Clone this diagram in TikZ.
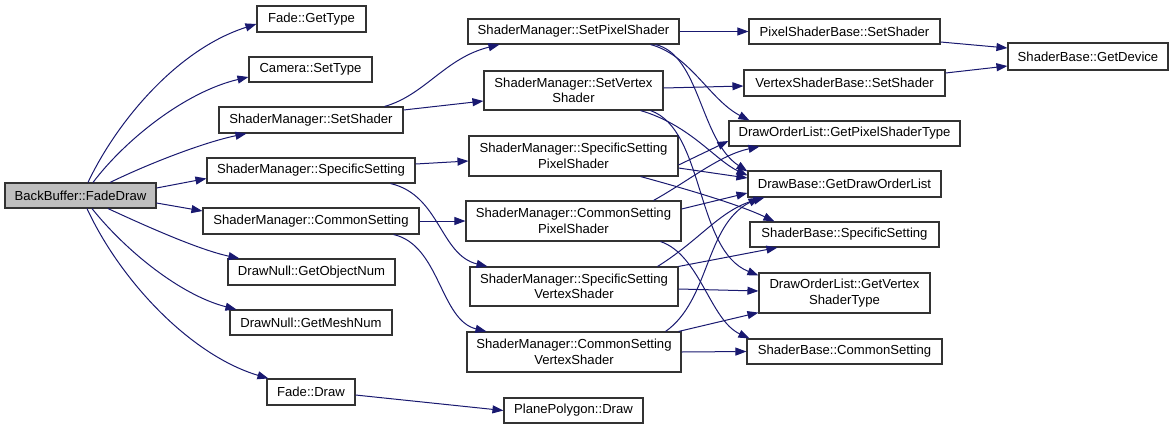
\documentclass[tikz,border=0pt]{standalone}
\usepackage{fontspec}
\setmainfont{Liberation Sans}
\usetikzlibrary{arrows.meta}
\definecolor{edgeblue}{HTML}{191970}
\definecolor{boxline}{HTML}{333333}
\tikzset{
  box/.style={draw=boxline, line width=1.1pt, fill=white, inner sep=0pt, align=center,
    font=\fontsize{13.1}{15.5}\selectfont},
  root/.style={box, fill=black!25},
  edge/.style={draw=edgeblue, line width=1pt, -{Triangle[length=11pt,width=8pt]}}
}
\begin{document}
\begin{tikzpicture}[x=1pt,y=-1pt]
\useasboundingbox[fill=white] (0,0) rectangle (1173,429);
% column 0
\node[root, minimum width=151pt, minimum height=25pt] (fd) at (80.5,195.5) {BackBuffer::FadeDraw};
% column 1
\node[box, minimum width=109pt, minimum height=26pt] (fgt) at (311.5,19) {Fade::GetType};
\node[box, minimum width=123pt, minimum height=25pt] (cst) at (310.5,69.5) {Camera::SetType};
\node[box, minimum width=184pt, minimum height=26pt] (sms) at (311,120) {ShaderManager::SetShader};
\node[box, minimum width=208pt, minimum height=25pt] (smss) at (311,170.5) {ShaderManager::SpecificSetting};
\node[box, minimum width=216pt, minimum height=26pt] (smcs) at (311,221) {ShaderManager::CommonSetting};
\node[box, minimum width=167pt, minimum height=26pt] (gon) at (311.5,272) {DrawNull::GetObjectNum};
\node[box, minimum width=162pt, minimum height=25pt] (gmn) at (311,322.5) {DrawNull::GetMeshNum};
\node[box, minimum width=88pt, minimum height=26pt] (fdr) at (311,392) {Fade::Draw};
% column 2
\node[box, minimum width=211pt, minimum height=25pt] (spx) at (573.5,31.5) {ShaderManager::SetPixelShader};
\node[box, minimum width=179pt, minimum height=39pt] (svx) at (573.5,90.5) {ShaderManager::SetVertex\\Shader};
\node[box, minimum width=209pt, minimum height=40pt] (sspx) at (573.5,156) {ShaderManager::SpecificSetting\\PixelShader};
\node[box, minimum width=215pt, minimum height=40pt] (cspx) at (573.5,221) {ShaderManager::CommonSetting\\PixelShader};
\node[box, minimum width=208pt, minimum height=39pt] (ssvx) at (574,286.5) {ShaderManager::SpecificSetting\\VertexShader};
\node[box, minimum width=214pt, minimum height=40pt] (csvx) at (574,352) {ShaderManager::CommonSetting\\VertexShader};
\node[box, minimum width=139pt, minimum height=25pt] (ppd) at (573.5,410.5) {PlanePolygon::Draw};
% column 3
\node[box, minimum width=191pt, minimum height=25pt] (psb) at (844.5,31.5) {PixelShaderBase::SetShader};
\node[box, minimum width=201pt, minimum height=26pt] (vsb) at (844.5,83) {VertexShaderBase::SetShader};
\node[box, minimum width=231pt, minimum height=25pt] (gpt) at (844.5,133.5) {DrawOrderList::GetPixelShaderType};
\node[box, minimum width=193pt, minimum height=26pt] (gdol) at (844.5,184) {DrawBase::GetDrawOrderList};
\node[box, minimum width=189pt, minimum height=25pt] (sbss) at (844.5,234.5) {ShaderBase::SpecificSetting};
\node[box, minimum width=171pt, minimum height=40pt] (gvt) at (844.5,293) {DrawOrderList::GetVertex\\ShaderType};
\node[box, minimum width=195pt, minimum height=25pt] (sbcs) at (844.5,351.5) {ShaderBase::CommonSetting};
% column 4
\node[box, minimum width=160pt, minimum height=27pt] (gd) at (1088,56.5) {ShaderBase::GetDevice};

% edges from FadeDraw
\draw[edge] ([xshift=7.5pt]fd.north) .. controls (115,125) and (175,50) .. ([yshift=-5pt]fgt.west);
\draw[edge] ([xshift=12.5pt]fd.north) .. controls (125,140) and (185,92) .. ([yshift=-7.5pt]cst.west);
\draw[edge] ([xshift=29.5pt]fd.north) .. controls (150,163) and (205,142) .. ([xshift=28pt]sms.south west);
\draw[edge] ([yshift=7.5pt]fd.east) -- ([yshift=-8pt]smss.west);
\draw[edge] ([yshift=-7.5pt]fd.east) -- ([yshift=10pt]smcs.west);
\draw[edge] ([xshift=27.5pt]fd.south) .. controls (150,228) and (200,250) .. ([xshift=12pt]gon.north west);
\draw[edge] ([xshift=11.5pt]fd.south) .. controls (125,250) and (180,295) .. ([xshift=7pt]gmn.north west);
\draw[edge] ([xshift=6.5pt]fd.south) .. controls (120,280) and (190,355) .. ([xshift=2pt]fdr.north west);

% second level
\draw[edge] ([xshift=-19pt]sms.north east) .. controls (425,95) and (445,58) .. ([xshift=32pt]spx.south west);
\draw[edge] ([yshift=10pt]sms.east) -- ([yshift=-10.5pt]svx.west);
\draw[edge] ([yshift=6.5pt]smss.east) -- ([yshift=-5pt]sspx.west);
\draw[edge] ([xshift=-25pt]smss.south east) .. controls (440,195) and (440,255) .. ([xshift=18pt]ssvx.north west);
\draw[edge] (smcs.east) -- (cspx.west);
\draw[edge] ([xshift=-26pt]smcs.south east) .. controls (440,245) and (440,320) .. ([xshift=20pt]csvx.north west);
\draw[edge] ([yshift=-3pt]fdr.east) -- (ppd.west);

% third level
\draw[edge] (spx.east) -- (psb.west);
\draw[edge] ([xshift=-29pt]spx.south east) .. controls (690,55) and (710,100) .. ([xshift=21pt]gpt.north west);
\draw[edge] ([xshift=-24pt]spx.south east) .. controls (700,55) and (700,140) .. ([yshift=-1pt]gdol.north west);
\draw[edge] ([yshift=2.5pt]svx.east) -- ([yshift=-3pt]vsb.west);
\draw[edge] ([xshift=-23pt]svx.south east) .. controls (690,125) and (715,160) .. ([yshift=-5pt]gdol.north west);
\draw[edge] ([xshift=-13pt]svx.south east) .. controls (705,130) and (695,250) .. ([yshift=-3pt]gvt.north west);
\draw[edge] ([yshift=-9pt]sspx.east) -- ([yshift=-7.5pt]gpt.west);
\draw[edge] ([yshift=-12pt]sspx.east) -- ([yshift=6pt]gdol.west);
\draw[edge] ([xshift=-38pt]sspx.south east) .. controls (690,190) and (740,205) .. ([xshift=25pt]sbss.north west);
\draw[edge] ([xshift=-28pt]cspx.north east) .. controls (690,180) and (720,155) .. ([xshift=31pt]gpt.south west);
\draw[edge] ([yshift=12pt]cspx.east) -- ([yshift=-9pt]gdol.west);
\draw[edge] ([xshift=-21pt]cspx.south east) .. controls (700,255) and (710,320) .. ([xshift=3pt]sbcs.north west);
\draw[edge] ([xshift=-21pt]ssvx.north east) .. controls (700,240) and (720,210) .. ([xshift=17pt]gdol.south west);
\draw[edge] (ssvx.north east) -- ([xshift=28pt]sbss.south west);
\draw[edge] ([yshift=-2.5pt]ssvx.east) -- ([yshift=2pt]gvt.west);
\draw[edge] ([xshift=-16pt]csvx.north east) .. controls (710,300) and (705,225) .. ([xshift=12pt]gdol.south west);
\draw[edge] ([xshift=-3pt]csvx.north east) -- ([yshift=1pt]gvt.south west);
\draw[edge] (csvx.east) -- (sbcs.west);

% fourth level
\draw[edge] ([yshift=-10.5pt]psb.east) -- ([yshift=8.5pt]gd.west);
\draw[edge] ([yshift=10pt]vsb.east) -- ([yshift=-9.5pt]gd.west);
\end{tikzpicture}
\end{document}
